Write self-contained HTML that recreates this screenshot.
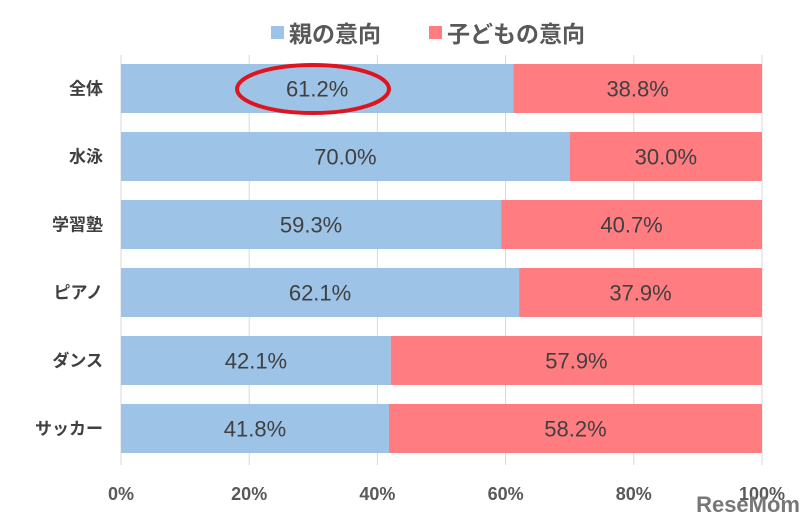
<!DOCTYPE html>
<html><head><meta charset="utf-8"><style>
body{margin:0;background:#fff;}
svg text{font-family:"Liberation Sans","Noto Sans CJK JP",sans-serif;}
</style></head><body>
<svg id="c" width="811" height="522"></svg>
<script>
const categories=["全体","水泳","学習塾","ピアノ","ダンス","サッカー"];
const parentVals=[61.2,70.0,59.3,62.1,42.1,41.8];
const childVals=[38.8,30.0,40.7,37.9,57.9,58.2];
const ticks=[0,20,40,60,80,100];
const seriesNames=["親の意向","子どもの意向"];
const NS="http://www.w3.org/2000/svg";
const svg=document.getElementById('c');
const x0=121,x1=762,top0=64,pitch=68,bh=49;
const xs=v=>x0+(x1-x0)*v/100;
const ys=i=>top0+i*pitch;
function mk(t,a,txt){const e=document.createElementNS(NS,t);for(const k in a)e.setAttribute(k,a[k]);if(txt!==undefined)e.textContent=txt;svg.appendChild(e);return e;}
ticks.forEach(t=>{
 const g=mk('line',{x1:xs(t),x2:xs(t),y1:55,y2:465,stroke:'#d9d9d9','stroke-width':1});
 
 
 const l=mk('text',{x:xs(t),y:500,'text-anchor':'middle','font-size':18,'font-weight':'bold',fill:'#595959'},t+'%');
 
 
});
categories.forEach((c,i)=>{
 const y=ys(i);
 const b1=mk('rect',{x:xs(0),y:y,width:xs(parentVals[i])-xs(0),height:bh,fill:'#9dc3e6'});
 
 
 const b2=mk('rect',{x:xs(parentVals[i]),y:y,width:xs(parentVals[i]+childVals[i])-xs(parentVals[i]),height:bh,fill:'#ff7c80'});
 
 
 const t1=mk('text',{x:(xs(0)+xs(parentVals[i]))/2,y:y+bh/2+8,'text-anchor':'middle','font-size':22,fill:'#404040'},parentVals[i].toFixed(1)+'%');
 
 
 const t2=mk('text',{x:(xs(parentVals[i])+xs(parentVals[i]+childVals[i]))/2,y:y+bh/2+8,'text-anchor':'middle','font-size':22,fill:'#404040'},childVals[i].toFixed(1)+'%');
 
 
 const cl=mk('text',{x:103,y:y+bh/2+6,'text-anchor':'end','font-size':17,'font-weight':'bold',fill:'#404040'},c);
 
 
});
const ov=mk('ellipse',{cx:313,cy:89,rx:76,ry:24,fill:'none',stroke:'#e0141e','stroke-width':4});


const lg=[[271,'#9dc3e6',seriesNames[0]],[429,'#ff7c80',seriesNames[1]]];
lg.forEach((L,i)=>{
 const r=mk('rect',{x:L[0],y:26,width:13,height:13,fill:L[1]});
 
 
 const t=mk('text',{x:L[0]+18,y:42,'font-size':23,'font-weight':'bold',fill:'#595959'},L[2]);
 
 
});
const wm=mk('text',{x:800,y:512,'text-anchor':'end','font-size':22,'font-weight':'bold',fill:'#777'},'ReseMom');


</script>
</body></html>
